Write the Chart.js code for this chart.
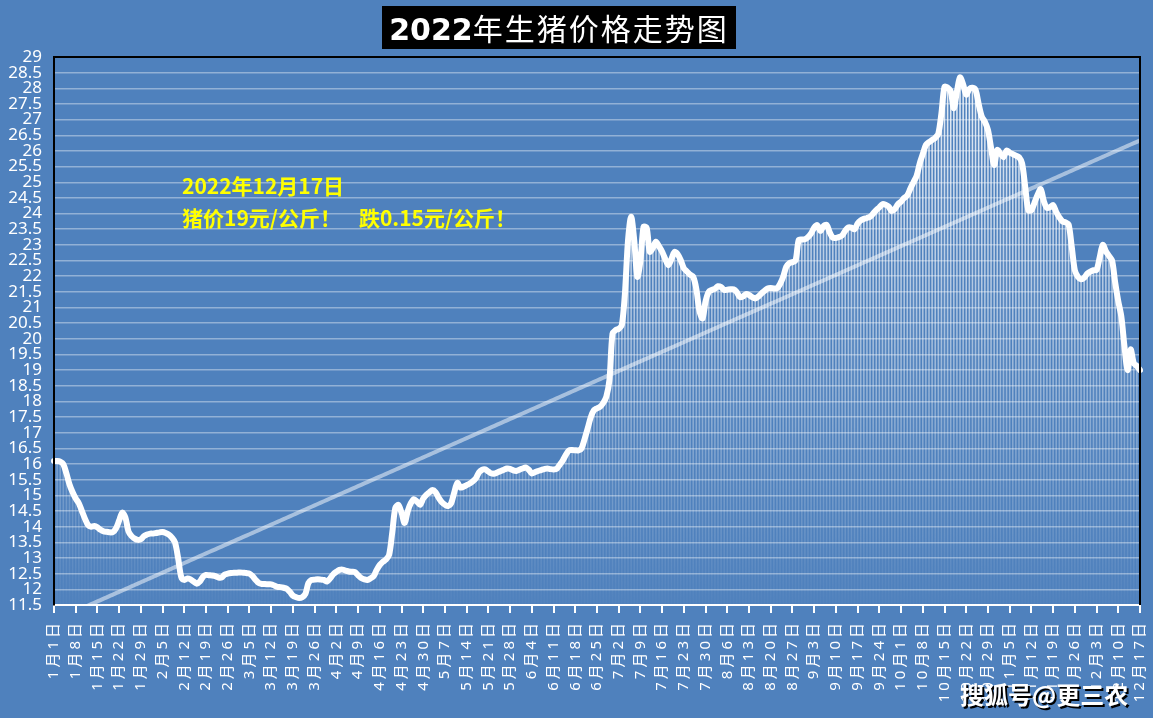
<!DOCTYPE html>
<html lang="zh">
<head>
  <meta charset="UTF-8" />
  <title>2022年生猪价格走势图</title>
  <script src="https://cdn.jsdelivr.net/npm/chart.js"></script>
  <style>
    body { margin: 0; background: #4f81bd; }
    #wrap { position: relative; width: 1153px; height: 718px; background: #4f81bd; overflow: hidden; }
    #c { position: absolute; left: 0; top: 0; }
    .title {
      position: absolute; left: 382px; top: 6px; width: 354px; height: 43px;
      background: #000; color: #fff; text-align: center; line-height: 43px;
      font-family: "Noto Sans CJK SC", sans-serif; font-size: 30px; letter-spacing: 2px;
    }
    .title b { font-family: "DejaVu Sans", sans-serif; font-weight: bold; letter-spacing: 0; }
    .note {
      position: absolute; left: 182px; top: 169px; color: #ffff00;
      font-family: "Noto Sans CJK SC", sans-serif; font-weight: bold; font-size: 21px; line-height: 32px;
    }
    .note .gap { display: inline-block; width: 18px; }
    .wm {
      position: absolute; left: 960px; top: 676px; color: #fff;
      font-family: "Noto Sans CJK SC", sans-serif; font-weight: bold; font-size: 24px;
      text-shadow: 2px 2px 0 #000;
    }
  </style>
</head>
<body>
  <div id="wrap">
    <canvas id="c" width="1153" height="718"></canvas>
    <div class="title"><b>2022</b>年生猪价格走势图</div>
    <div class="note">2022年12月17日<br>猪价19元/公斤！<span class="gap"></span>跌0.15元/公斤！</div>
    <div class="wm">搜狐号@更三农</div>
  </div>

  <script>
    // calendar: days per month (Dec runs to the 17th)
    const monthDays = [31, 28, 31, 30, 31, 30, 31, 31, 30, 31, 30, 17];

    // daily price (元/公斤)
    const jan = [16.1, 16.1, 16.08, 16.0, 15.7, 15.35, 15.1, 14.9, 14.75, 14.5, 14.25, 14.05, 14.0, 14.02, 13.98, 13.9,
                 13.85, 13.84, 13.82, 13.83, 13.95, 14.2, 14.45, 14.3, 13.85, 13.7, 13.62, 13.58, 13.6, 13.7, 13.75];
    const feb = [13.78, 13.78, 13.8, 13.82, 13.83, 13.8, 13.75, 13.65, 13.5, 13.0, 12.4, 12.3, 12.35, 12.32, 12.25, 12.18,
                 12.25, 12.4, 12.46, 12.45, 12.44, 12.42, 12.38, 12.38, 12.47, 12.5, 12.52, 12.53];
    const mar = [12.53, 12.54, 12.53, 12.52, 12.5, 12.42, 12.3, 12.2, 12.17, 12.17, 12.16, 12.16, 12.12, 12.08, 12.07, 12.05,
                 12.02, 11.92, 11.8, 11.75, 11.72, 11.75, 11.85, 12.2, 12.3, 12.31, 12.32, 12.31, 12.3, 12.25, 12.35];
    const apr = [12.48, 12.56, 12.62, 12.63, 12.6, 12.57, 12.56, 12.55, 12.45, 12.36, 12.32, 12.3, 12.35, 12.42, 12.62, 12.78,
                 12.88, 12.95, 13.1, 13.8, 14.6, 14.7, 14.45, 14.12, 14.5, 14.75, 14.88, 14.8, 14.7, 14.9];
    const may = [15.02, 15.1, 15.17, 15.1, 14.92, 14.78, 14.7, 14.66, 14.75, 15.1, 15.4, 15.25, 15.28, 15.33, 15.38, 15.45,
                 15.55, 15.74, 15.82, 15.83, 15.76, 15.7, 15.7, 15.74, 15.78, 15.82, 15.86, 15.85, 15.8, 15.78, 15.82];
    const jun = [15.86, 15.89, 15.82, 15.7, 15.74, 15.78, 15.81, 15.84, 15.86, 15.84, 15.83, 15.85, 15.98, 16.12, 16.3, 16.44,
                 16.45, 16.44, 16.44, 16.5, 16.8, 17.14, 17.5, 17.72, 17.78, 17.83, 17.95, 18.15, 18.68, 20.17];
    const jul = [20.28, 20.32, 20.44, 21.45, 23.15, 23.9, 23.15, 21.98, 22.5, 23.58, 23.55, 22.78, 22.9, 23.1, 22.95, 22.78,
                 22.55, 22.35, 22.55, 22.78, 22.7, 22.51, 22.25, 22.15, 22.05, 21.98, 21.6, 20.9, 20.65, 21.2, 21.5];
    const aug = [21.56, 21.6, 21.68, 21.65, 21.56, 21.57, 21.58, 21.58, 21.5, 21.34, 21.35, 21.43, 21.4, 21.33, 21.29, 21.35,
                 21.45, 21.53, 21.61, 21.62, 21.61, 21.61, 21.75, 21.98, 22.3, 22.42, 22.45, 22.5, 23.15, 23.17, 23.18];
    const sep = [23.25, 23.37, 23.55, 23.63, 23.45, 23.6, 23.64, 23.4, 23.23, 23.22, 23.25, 23.3, 23.45, 23.56, 23.55, 23.5,
                 23.68, 23.78, 23.83, 23.86, 23.9, 24.0, 24.11, 24.2, 24.3, 24.28, 24.22, 24.08, 24.15, 24.3];
    const oct = [24.38, 24.5, 24.58, 24.8, 25.0, 25.2, 25.6, 25.9, 26.19, 26.28, 26.35, 26.42, 26.55, 27.2, 28.05, 28.02,
                 27.9, 27.36, 27.9, 28.35, 28.12, 27.8, 27.98, 28.02, 27.95, 27.5, 27.1, 26.93, 26.67, 26.1, 25.55];
    const nov = [26.03, 25.92, 25.8, 26.01, 25.95, 25.9, 25.85, 25.8, 25.6, 24.86, 24.11, 24.1, 24.35, 24.6, 24.78, 24.4,
                 24.18, 24.2, 24.27, 24.05, 23.88, 23.75, 23.72, 23.65, 22.94, 22.19, 21.98, 21.9, 21.95, 22.08];
    const dec = [22.15, 22.19, 22.2, 22.6, 23.0, 22.8, 22.65, 22.5, 21.8, 21.2, 20.7, 19.75, 19.0, 19.66, 19.22, 19.13, 19.0];

    const price = [].concat(jan, feb, mar, apr, may, jun, jul, aug, sep, oct, nov, dec);

    // category labels 1月1日 ... 12月17日, one shown every 7 days
    const days = [];
    monthDays.forEach((n, m) => { for (let d = 1; d <= n; d++) days.push((m + 1) + "月" + d + "日"); });

    const yMin = 11.5, yMax = 29, yStep = 0.5;

    // linear trend line (least squares over the day index), like the spreadsheet trendline
    let sx = 0, sy = 0, sxx = 0, sxy = 0;
    price.forEach((v, i) => { sx += i; sy += v; sxx += i * i; sxy += i * v; });
    const n = price.length;
    const slope = (n * sxy - sx * sy) / (n * sxx - sx * sx);
    const icpt = (sy - slope * sx) / n;
    const trend = price.map((_, i) => icpt + slope * i);

    // bars fade out towards the bottom of the plot
    let barGrad = null;
    function barColor(ctx) {
      const a = ctx.chart.chartArea;
      if (!a) return "rgba(255,255,255,0.35)";
      if (!barGrad) {
        barGrad = ctx.chart.ctx.createLinearGradient(0, a.top, 0, a.bottom);
        barGrad.addColorStop(0, "rgba(255,255,255,0.9)");
        barGrad.addColorStop(0.5, "rgba(255,255,255,0.5)");
        barGrad.addColorStop(1, "rgba(255,255,255,0.02)");
      }
      return barGrad;
    }

    // spaced-out date labels (x labels drawn before datasets), black frame round the plot
    const frame = {
      id: "frame",
      beforeDraw(chart) { chart.ctx.letterSpacing = "3px"; },
      afterDatasetsDraw(chart) {
        const { ctx, chartArea: a } = chart;
        ctx.letterSpacing = "0px";
        ctx.save();
        ctx.strokeStyle = "#000";
        ctx.lineWidth = 2;
        ctx.beginPath();
        ctx.moveTo(a.left, a.bottom);
        ctx.lineTo(a.left, a.top);
        ctx.lineTo(a.right, a.top);
        ctx.lineTo(a.right, a.bottom);
        ctx.stroke();
        ctx.restore();
      }
    };

    new Chart(document.getElementById("c"), {
      type: "line",
      data: {
        labels: days,
        datasets: [
          {
            type: "line", data: price, borderColor: "#fff", borderWidth: 6,
            pointRadius: 0, tension: 0.3, borderCapStyle: "round", borderJoinStyle: "round", order: 0
          },
          {
            type: "line", data: trend, borderColor: "rgba(255,255,255,0.5)", borderWidth: 4,
            pointRadius: 0, order: 1
          },
          {
            type: "bar", data: price, backgroundColor: barColor, borderWidth: 0,
            barPercentage: 0.5, categoryPercentage: 1, order: 2
          }
        ]
      },
      options: {
        responsive: false,
        animation: false,
        layout: { padding: { top: 57, right: 13, left: 0, bottom: 0 } },
        plugins: { legend: { display: false }, tooltip: { enabled: false } },
        scales: {
          x: {
            offset: false,
            afterFit: s => { s.height = 113; s.paddingRight = 0; s.paddingLeft = 0; },
            border: { display: true, color: "#fff", width: 2 },
            grid: { display: true, drawOnChartArea: false, drawTicks: true, tickLength: 8, color: "#fff", lineWidth: 2, offset: false },
            ticks: {
              autoSkip: false, minRotation: 90, maxRotation: 90, padding: 7,
              color: "#fff", font: { family: "'Noto Sans', 'Noto Sans CJK SC'", size: 15 },
              callback: (v, i) => (i % 7 === 0 ? days[i] : null)
            }
          },
          y: {
            min: yMin, max: yMax,
            afterFit: s => { s.width = 54; },
            border: { display: true, color: "#000", width: 2 },
            grid: { color: "rgba(255,255,255,0.38)", lineWidth: 1.5, drawTicks: false },
            ticks: {
              stepSize: yStep, autoSkip: false, padding: 12, color: "#fff", z: 1,
              font: { family: "'Noto Sans'", size: 17 },
              callback: v => String(Math.round(v * 10) / 10)
            }
          }
        }
      },
      plugins: [frame]
    });
  </script>
</body>
</html>
